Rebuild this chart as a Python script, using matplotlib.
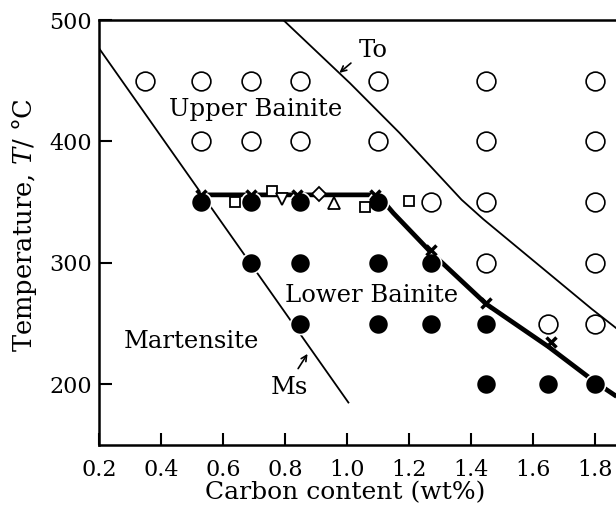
import matplotlib
matplotlib.use("Agg")
import matplotlib.pyplot as plt

# ---- data ----
open_450 = [0.35, 0.53, 0.69, 0.85, 1.10, 1.45, 1.80]
open_400 = [0.53, 0.69, 0.85, 1.10, 1.45, 1.80]
open_350 = [1.27, 1.45, 1.80]
open_300 = [1.45, 1.80]
open_250 = [1.65, 1.80]

fill_350 = [0.53, 0.69, 0.85, 1.10]
fill_300 = [0.69, 0.85, 1.10, 1.27]
fill_250 = [0.85, 1.10, 1.27, 1.45]
fill_200 = [1.45, 1.65, 1.80]

cross_x = [0.53, 0.69, 0.84, 1.09, 1.27, 1.45, 1.66]
cross_T = [356, 356, 356, 356, 311, 267, 235]

sq_x = [0.64, 0.76, 1.06, 1.20]
sq_T = [350, 359, 346, 351]
tri_down = (0.79, 353)
diamond = (0.91, 357)
tri_up = (0.96, 349)

bs_x = [0.53, 1.10, 1.15, 1.27, 1.45, 1.65, 1.80, 1.87]
bs_T = [356, 356, 341, 309, 266, 231, 202, 190]

ms_x = [0.20, 1.005]
ms_T = [477, 185]

to_x = [0.795, 1.01, 1.17, 1.37, 1.44, 1.79, 1.87]
to_T = [500, 448, 407, 352, 336, 262, 246]

xticks = [0.2, 0.4, 0.6, 0.8, 1.0, 1.2, 1.4, 1.6, 1.8]
yticks = [200, 300, 400, 500]

plt.rcParams['font.family'] = ['DejaVu Serif']
plt.rcParams['mathtext.fontset'] = 'dejavuserif'

fig = plt.figure(figsize=(6.16, 5.09), dpi=100)
ax = fig.add_axes([0.1604, 0.1257, 0.906, 0.835])
ax.set_xlim(0.2, 2.0)
ax.set_ylim(150, 500)

# lines
ax.plot(ms_x, ms_T, color='black', lw=1.3, zorder=2)
ax.plot(to_x, to_T, color='black', lw=1.3, zorder=2)
ax.plot(bs_x, bs_T, color='black', lw=3.4, zorder=3, solid_capstyle='butt')

# open circles
oc = dict(ls='none', marker='o', ms=13.5, mfc='white', mec='black', mew=1.2, zorder=4)
for xs, T in [(open_450, 450), (open_400, 400), (open_350, 350), (open_300, 300), (open_250, 250)]:
    ax.plot(xs, [T] * len(xs), **oc)

fc = dict(ls='none', marker='o', ms=14.5, mfc='black', mec='white', mew=1.2, zorder=4)
for xs, T in [(fill_350, 350), (fill_300, 300), (fill_250, 250), (fill_200, 200)]:
    ax.plot(xs, [T] * len(xs), **fc)

ax.plot(cross_x, cross_T, ls='none', marker='x', ms=7.5, mew=2.5, color='black', zorder=5)
ax.plot(sq_x, sq_T, ls='none', marker='s', ms=7.5, mfc='white', mec='black', mew=1.3, zorder=5)
ax.plot([tri_down[0]], [tri_down[1]], ls='none', marker='v', ms=8, mfc='white', mec='black', mew=1.3, zorder=5)
ax.plot([diamond[0]], [diamond[1]], ls='none', marker='D', ms=7, mfc='white', mec='black', mew=1.3, zorder=5)
ax.plot([tri_up[0]], [tri_up[1]], ls='none', marker='^', ms=8, mfc='white', mec='black', mew=1.3, zorder=5)

# labels
fs = 17.5
ax.text(0.705, 426, 'Upper Bainite', ha='center', va='center', fontsize=fs)
ax.text(1.08, 273, 'Lower Bainite', ha='center', va='center', fontsize=fs,
        bbox=dict(facecolor='white', edgecolor='none', pad=0.3), zorder=3.5)
ax.text(0.50, 235, 'Martensite', ha='center', va='center', fontsize=fs)
ax.text(1.085, 475, 'To', ha='center', va='center', fontsize=fs)
ax.text(0.815, 197, 'Ms', ha='center', va='center', fontsize=fs)
ax.annotate('', xy=(0.969, 455), xytext=(1.02, 466),
            arrowprops=dict(arrowstyle='->', lw=1.2, color='black'))
ax.annotate('', xy=(0.878, 227), xytext=(0.838, 211),
            arrowprops=dict(arrowstyle='->', lw=1.2, color='black'))

ax.set_xticks(xticks)
ax.set_xticklabels([f'{v:.1f}' for v in xticks])
ax.set_yticks(yticks)
ax.tick_params(direction='in', length=9, width=1.5, labelsize=16)
ax.tick_params(axis='x', pad=10)
ax.tick_params(axis='y', pad=5)
for s in ['left', 'bottom', 'top']:
    ax.spines[s].set_linewidth(1.8)
ax.spines['right'].set_visible(False)

ax.set_xlabel('Carbon content (wt%)', fontsize=18)
ax.set_ylabel('Temperature, $T$/ °C', fontsize=18.5)
fig.canvas.draw()
# place axis titles in axes-fraction coordinates
ax.xaxis.set_label_coords(0.441, -0.112)
ax.xaxis.label.set_va('center')
ax.yaxis.set_label_coords(-0.108, 0.518)

fig.savefig('out.png', dpi=100)
